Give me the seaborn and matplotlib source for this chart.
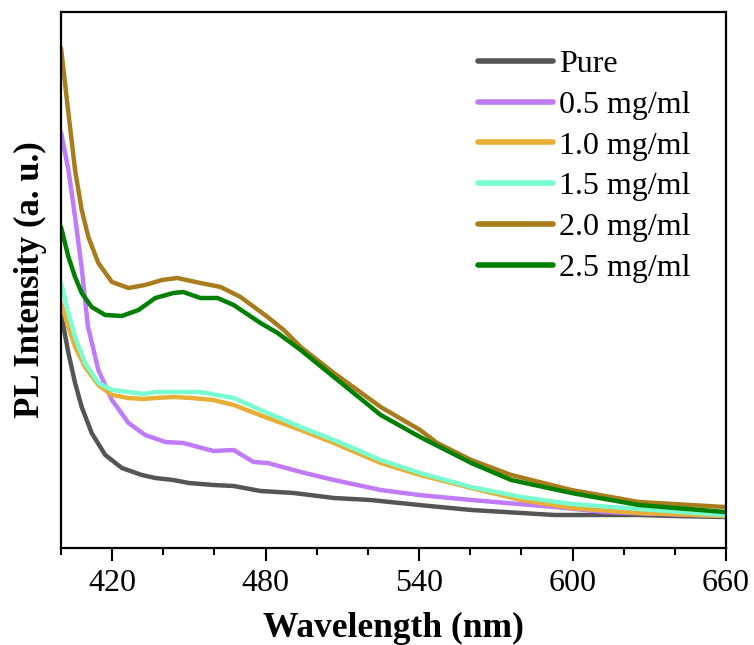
import numpy as np
import pandas as pd
import matplotlib
matplotlib.use("Agg")
import matplotlib.pyplot as plt
import seaborn as sns
from matplotlib.ticker import MultipleLocator

labels = ["Pure", "0.5 mg/ml", "1.0 mg/ml", "1.5 mg/ml", "2.0 mg/ml", "2.5 mg/ml"]
colors = ["#555555", "#BF7BFA", "#E8AE36", "#78FCD0", "#A87C1C", "#008000"]

pure_x = [400, 402.9, 405.5, 408.1, 412, 417.3, 423.8, 431.6, 436.9, 443.9, 450, 459.6, 467.5, 478, 491, 506.7, 521, 540, 560.4, 580, 593, 610, 625.9, 640, 659.6]
pure_y = [235, 195, 165, 141, 115, 93, 80, 73, 70, 68, 65, 63, 62, 57, 55, 50, 48, 43, 38, 35, 33, 33, 33, 32, 31]

p05_x = [400, 402.9, 405.5, 408.1, 410.5, 414.6, 419.9, 426.4, 432.9, 440.8, 447.8, 459.6, 467.5, 475.3, 480.8, 493.7, 506.7, 525, 540, 560.4, 593, 612.5, 635, 659.6]
p05_y = [416, 378, 331, 280, 222, 178, 148, 125, 113, 106, 105, 97, 98, 86, 85, 76, 68, 58, 53, 48, 41, 36, 34, 32]

p10_x = [400, 402.9, 405.5, 409.4, 414.6, 419.9, 426.4, 432.3, 436.9, 443.9, 451, 459.6, 467.5, 480.8, 493.7, 506.7, 525, 540.4, 560.4, 580, 599.6, 625.9, 659.6]
p10_y = [245, 221, 201, 181, 163, 153, 150, 149, 150, 151, 150, 148, 143, 130, 118, 105, 85, 73, 60, 48, 40, 35, 32]

p15_x = [400, 402.9, 405.5, 409.4, 414.6, 419.9, 426.4, 432.3, 436.9, 443.9, 454.5, 467.5, 480.8, 493.7, 506.7, 525, 540.4, 560.4, 580, 599.6, 625.9, 659.6]
p15_y = [265, 235, 211, 185, 165, 158, 156, 154, 156, 156, 156, 150, 135, 121, 108, 88, 75, 61, 51, 44, 39, 33]

p20_x = [400, 402.9, 405.5, 408.1, 410.7, 414.6, 419.9, 426.4, 432.9, 439.5, 445.5, 454.5, 462.4, 470.2, 480.8, 487.1, 493.7, 506.7, 525, 540.4, 547.1, 560.4, 576, 599.6, 625.9, 659.6]
p20_y = [500, 435, 378, 338, 311, 285, 266, 260, 263, 268, 270, 265, 261, 251, 231, 218, 201, 175, 141, 118, 105, 88, 73, 58, 46, 41]

p25_x = [400, 402.9, 405.5, 408.1, 412, 417.3, 423.8, 430.3, 436.9, 443.9, 447.8, 454.5, 461.2, 467.5, 478, 484.7, 493.7, 506.7, 525, 540.4, 560.4, 576, 599.6, 625.9, 659.6]
p25_y = [321, 291, 271, 255, 241, 233, 232, 238, 250, 255, 256, 250, 250, 243, 225, 215, 198, 171, 133, 111, 85, 68, 55, 43, 36]

series = [(pure_x, pure_y), (p05_x, p05_y), (p10_x, p10_y), (p15_x, p15_y), (p20_x, p20_y), (p25_x, p25_y)]
frames = []
for lab, (xs, ys) in zip(labels, series):
    frames.append(pd.DataFrame({"Wavelength": xs, "Intensity": ys, "Sample": lab}))
df = pd.concat(frames, ignore_index=True)

sns.set_style("ticks")
plt.rcParams["font.family"] = ["Liberation Serif", "DejaVu Serif"]
plt.rcParams["text.color"] = "black"
plt.rcParams["axes.labelcolor"] = "black"
plt.rcParams["xtick.color"] = "black"
plt.rcParams["ytick.color"] = "black"

fig = plt.figure(figsize=(7.54, 6.45), dpi=100)
ax = fig.add_axes([61/754, 1-548/645, (726-61)/754, (548-12)/645])

sns.lineplot(data=df, x="Wavelength", y="Intensity", hue="Sample", hue_order=labels,
             palette=dict(zip(labels, colors)), estimator=None, sort=False,
             linewidth=3.2, ax=ax)

ax.set_xlim(400, 660)
ax.set_ylim(0, 536)
ax.set_xticks([420, 480, 540, 600, 660])
ax.xaxis.set_minor_locator(MultipleLocator(20))
ax.set_yticks([])
ax.tick_params(axis="x", which="major", direction="out", length=9, width=1.5, labelsize=23, pad=6)
ax.tick_params(axis="x", which="minor", direction="out", length=5, width=1.5)
for s in ax.spines.values():
    s.set_visible(True)
    s.set_linewidth(1.6)
    s.set_color("black")

ax.set_xlabel("Wavelength (nm)", fontsize=25.5, fontweight="bold", labelpad=10)
ax.set_ylabel("PL Intensity (a. u.)", fontsize=25, fontweight="bold", labelpad=10)

leg = ax.legend(loc="upper left", bbox_to_anchor=(0.627, 0.93), frameon=False,
                fontsize=23, handlelength=2.35, handletextpad=0.2, labelspacing=0.36,
                borderpad=0, borderaxespad=0)
for line in leg.get_lines():
    line.set_linewidth(4)

fig.savefig("out.png", dpi=100)
